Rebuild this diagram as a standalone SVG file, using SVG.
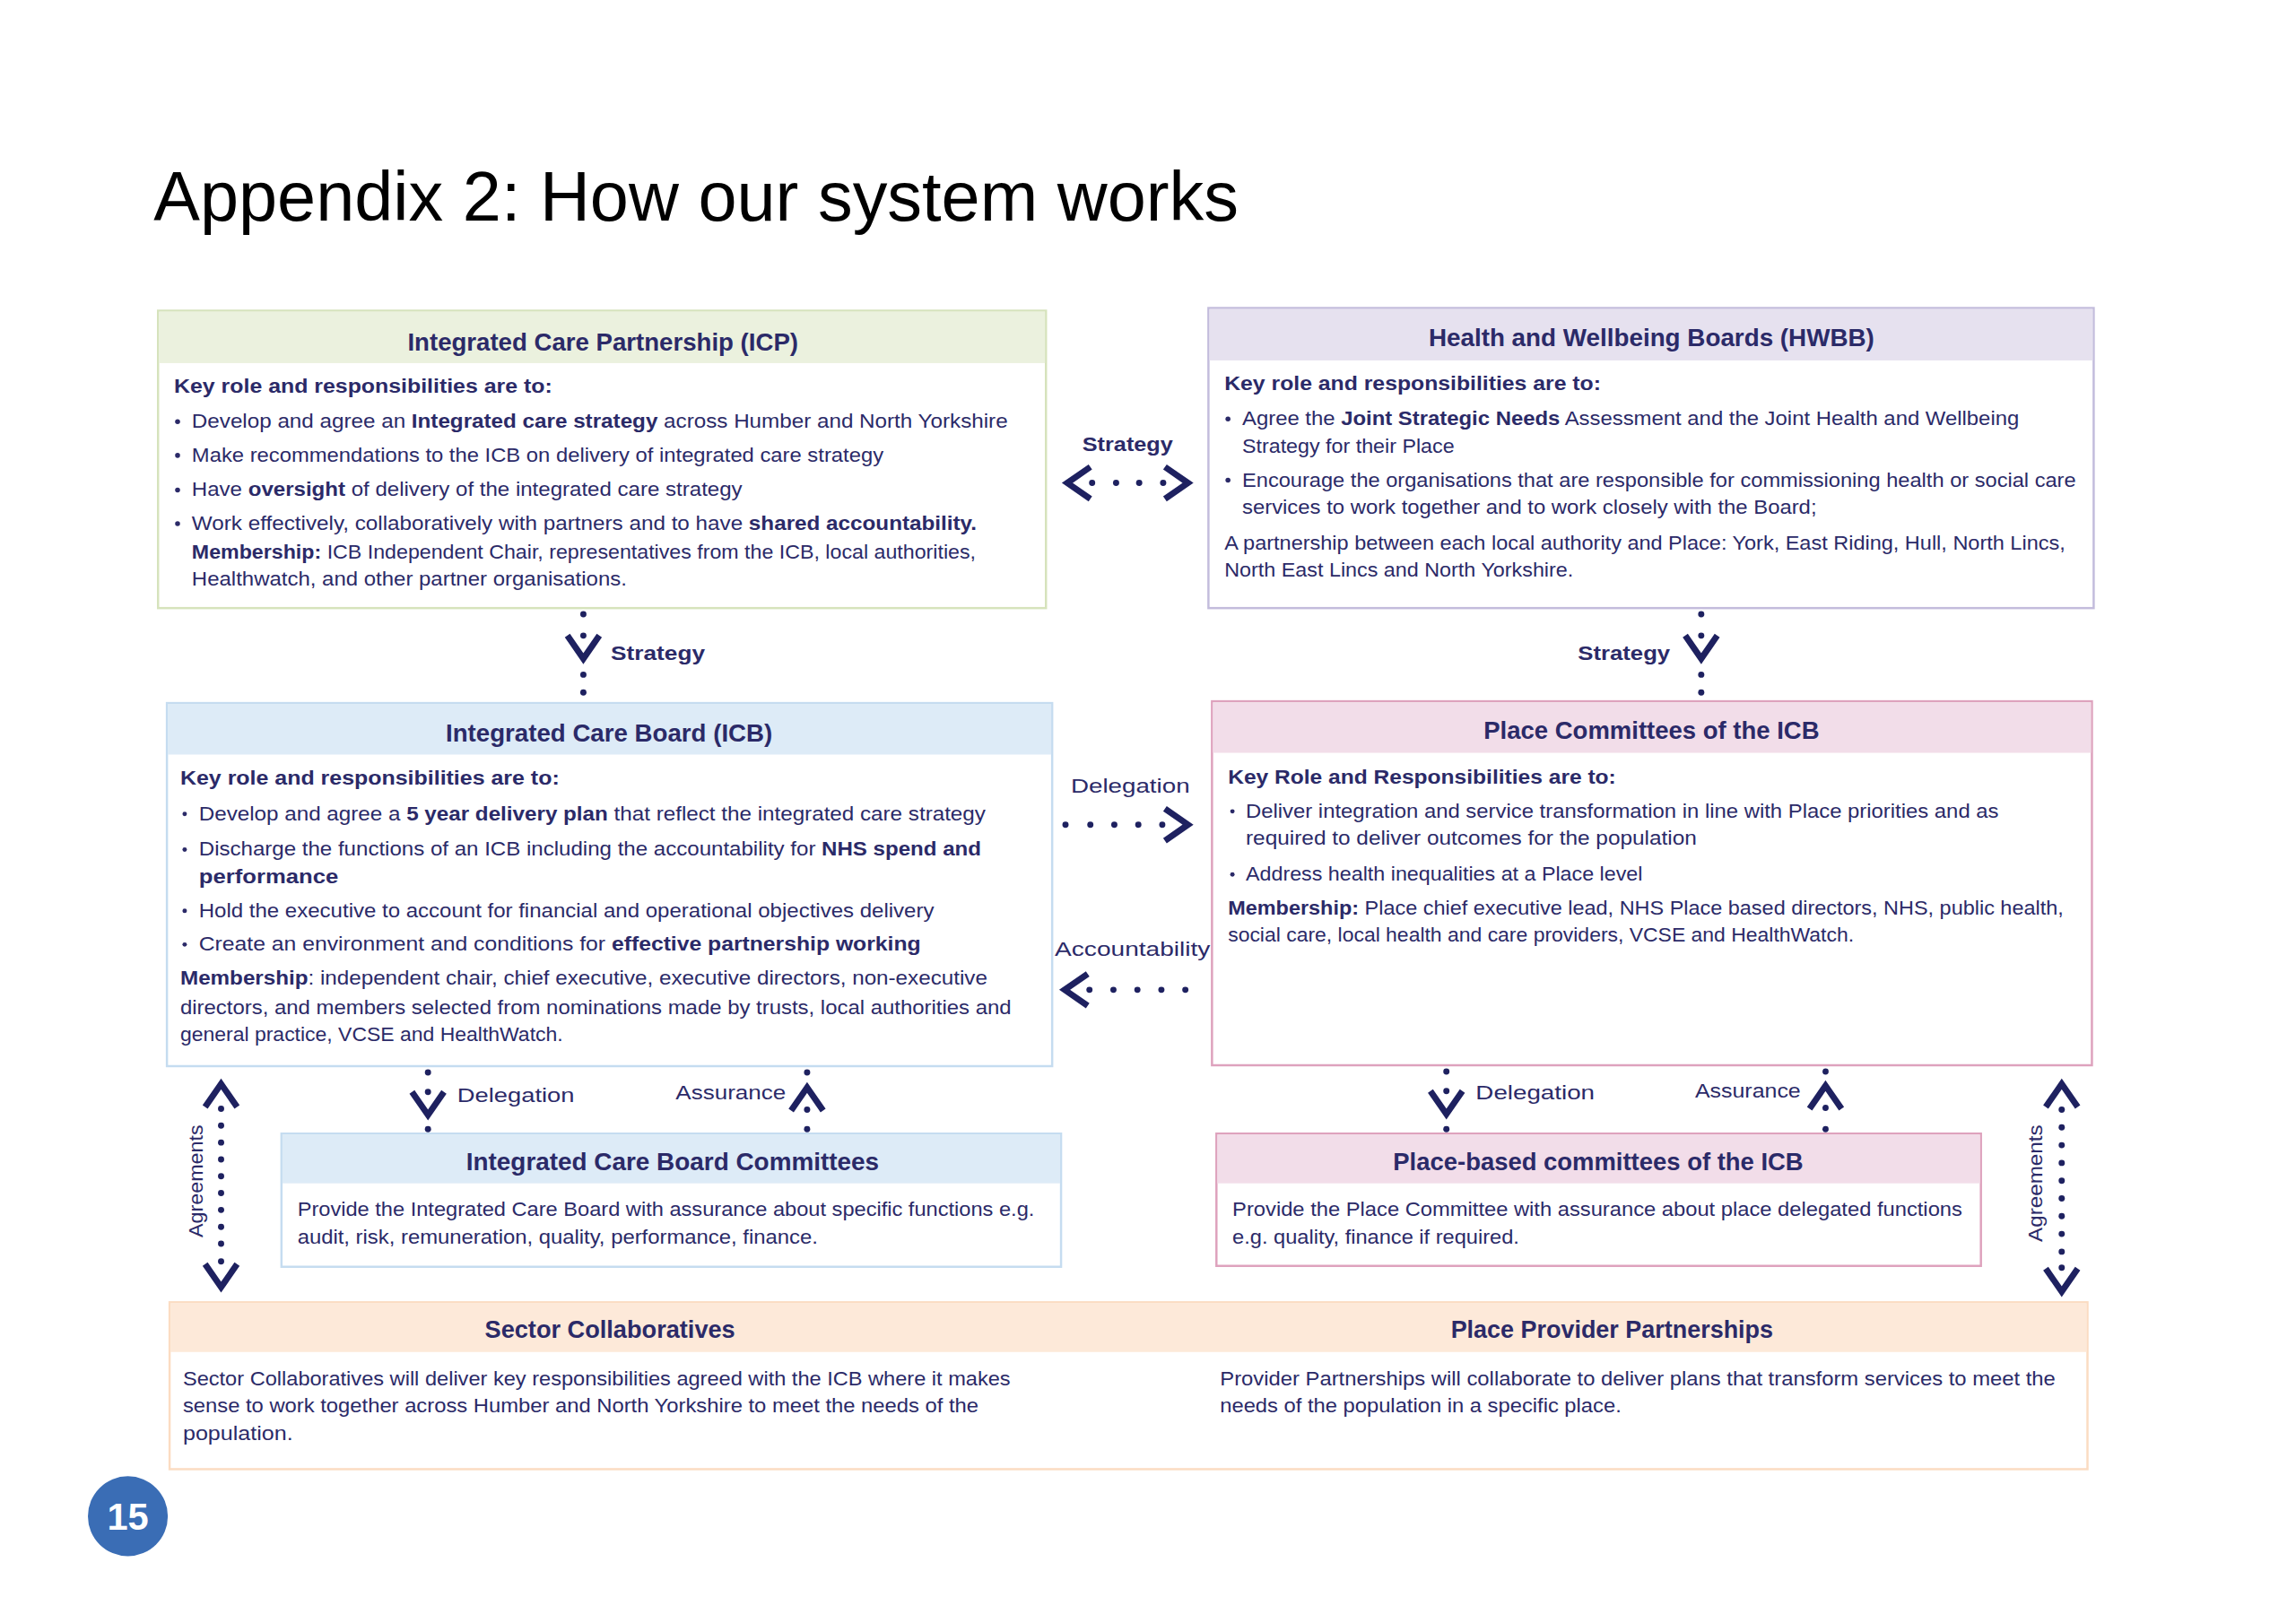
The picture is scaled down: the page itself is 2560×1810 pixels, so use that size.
<svg xmlns="http://www.w3.org/2000/svg" xmlns:xlink="http://www.w3.org/1999/xlink" width="2560" height="1810" viewBox="0 0 2560 1810">
<style>
text{font-family:"Liberation Sans",Arial,sans-serif;fill:#2b2a68;}
.t{font-size:23px;}
.h{font-size:27px;font-weight:bold;}
.k{font-size:23px;font-weight:bold;}
.b{font-weight:bold;}
.lbl{font-size:23px;}
.lblb{font-size:23px;font-weight:bold;}
.dot{fill:#1e2160;}
.bul{fill:#2b2a68;}
</style>
<defs>
<path id="chev" d="M-13,-18 L13,0 L-13,18" fill="none" stroke="#1e2160" stroke-width="7" stroke-linejoin="miter"/>
</defs>
<rect width="2560" height="1810" fill="#ffffff"/>
<g transform="scale(0.99)">
<text x="173" y="248" style="font-size:78px;fill:#000" textLength="1222" lengthAdjust="spacingAndGlyphs">Appendix 2: How our system works</text>

<g id="icp">
<rect x="178" y="350" width="1000" height="335" fill="#fff" stroke="#d6e3bc" stroke-width="2.5"/>
<rect x="179" y="351" width="998" height="58" fill="#ebf1de"/>
<text class="h" x="459" y="395" textLength="440" lengthAdjust="spacingAndGlyphs">Integrated Care Partnership (ICP)</text>
<g transform="translate(0,5)">
<text class="k" x="196" y="437" textLength="426" lengthAdjust="spacingAndGlyphs">Key role and responsibilities are to:</text>
<circle class="bul" cx="200" cy="470" r="2.8"/><text class="t" x="216" y="477" textLength="919" lengthAdjust="spacingAndGlyphs">Develop and agree an <tspan class="b">Integrated care strategy</tspan> across Humber and North Yorkshire</text>
<circle class="bul" cx="200" cy="508" r="2.8"/><text class="t" x="216" y="515" textLength="779" lengthAdjust="spacingAndGlyphs">Make recommendations to the ICB on delivery of integrated care strategy</text>
<circle class="bul" cx="200" cy="547" r="2.8"/><text class="t" x="216" y="554" textLength="620" lengthAdjust="spacingAndGlyphs">Have <tspan class="b">oversight</tspan> of delivery of the integrated care strategy</text>
<circle class="bul" cx="200" cy="585" r="2.8"/><text class="t" x="216" y="592" textLength="884" lengthAdjust="spacingAndGlyphs">Work effectively, collaboratively with partners and to have <tspan class="b">shared accountability.</tspan></text>
<text class="t" x="216" y="624" textLength="883" lengthAdjust="spacingAndGlyphs"><tspan class="b">Membership:</tspan> ICB Independent Chair, representatives from the ICB, local authorities,</text>
<text class="t" x="216" y="655" textLength="490" lengthAdjust="spacingAndGlyphs">Healthwatch, and other partner organisations.</text>
</g>
</g>

<g id="hwbb">
<rect x="1361" y="347" width="997" height="338" fill="#fff" stroke="#c3bcdc" stroke-width="2.5"/>
<rect x="1362" y="348" width="995" height="58" fill="#e6e1ef"/>
<text class="h" x="1609" y="390" textLength="502" lengthAdjust="spacingAndGlyphs">Health and Wellbeing Boards (HWBB)</text>
<g transform="translate(0,5)">
<text class="k" x="1379" y="434" textLength="424" lengthAdjust="spacingAndGlyphs">Key role and responsibilities are to:</text>
<circle class="bul" cx="1383" cy="467" r="2.8"/><text class="t" x="1399" y="474" textLength="875" lengthAdjust="spacingAndGlyphs">Agree the <tspan class="b">Joint Strategic Needs</tspan> Assessment and the Joint Health and Wellbeing</text>
<text class="t" x="1399" y="505" textLength="239" lengthAdjust="spacingAndGlyphs">Strategy for their Place</text>
<circle class="bul" cx="1383" cy="536" r="2.8"/><text class="t" x="1399" y="543" textLength="939" lengthAdjust="spacingAndGlyphs">Encourage the organisations that are responsible for commissioning health or social care</text>
<text class="t" x="1399" y="574" textLength="647" lengthAdjust="spacingAndGlyphs">services to work together and to work closely with the Board;</text>
<text class="t" x="1379" y="614" textLength="947" lengthAdjust="spacingAndGlyphs">A partnership between each local authority and Place: York, East Riding, Hull, North Lincs,</text>
<text class="t" x="1379" y="645" textLength="393" lengthAdjust="spacingAndGlyphs">North East Lincs and North Yorkshire.</text>
</g>
</g>

<g id="icb">
<rect x="188" y="792" width="997" height="409" fill="#fff" stroke="#c5dcf0" stroke-width="2.5"/>
<rect x="189" y="793" width="995" height="57" fill="#ddebf7"/>
<text class="h" x="502" y="835" textLength="368" lengthAdjust="spacingAndGlyphs">Integrated Care Board (ICB)</text>
<g transform="translate(0,5)">
<text class="k" x="203" y="879" textLength="427" lengthAdjust="spacingAndGlyphs">Key role and responsibilities are to:</text>
<circle class="bul" cx="208" cy="912" r="2.5"/><text class="t" x="224" y="919" textLength="886" lengthAdjust="spacingAndGlyphs">Develop and agree a <tspan class="b">5 year delivery plan</tspan> that reflect the integrated care strategy</text>
<circle class="bul" cx="208" cy="952" r="2.5"/><text class="t" x="224" y="959" textLength="881" lengthAdjust="spacingAndGlyphs">Discharge the functions of an ICB including the accountability for <tspan class="b">NHS spend and</tspan></text>
<text class="t b" x="224" y="990" textLength="157" lengthAdjust="spacingAndGlyphs">performance</text>
<circle class="bul" cx="208" cy="1021" r="2.5"/><text class="t" x="224" y="1028" textLength="828" lengthAdjust="spacingAndGlyphs">Hold the executive to account for financial and operational objectives delivery</text>
<circle class="bul" cx="208" cy="1059" r="2.5"/><text class="t" x="224" y="1066" textLength="813" lengthAdjust="spacingAndGlyphs">Create an environment and conditions for <tspan class="b">effective partnership working</tspan></text>
<text class="t" x="203" y="1104" textLength="909" lengthAdjust="spacingAndGlyphs"><tspan class="b">Membership</tspan>: independent chair, chief executive, executive directors, non-executive</text>
<text class="t" x="203" y="1137" textLength="936" lengthAdjust="spacingAndGlyphs">directors, and members selected from nominations made by trusts, local authorities and</text>
<text class="t" x="203" y="1168" textLength="431" lengthAdjust="spacingAndGlyphs">general practice, VCSE and HealthWatch.</text>
</g>
</g>

<g id="place">
<rect x="1365" y="790" width="991" height="410" fill="#fff" stroke="#dea2bd" stroke-width="2.5"/>
<rect x="1366" y="791" width="989" height="57" fill="#f2dde9"/>
<text class="h" x="1671" y="832" textLength="378" lengthAdjust="spacingAndGlyphs">Place Committees of the ICB</text>
<g transform="translate(0,5)">
<text class="k" x="1383" y="878" textLength="437" lengthAdjust="spacingAndGlyphs">Key Role and Responsibilities are to:</text>
<circle class="bul" cx="1388" cy="909" r="2.5"/><text class="t" x="1403" y="916" textLength="848" lengthAdjust="spacingAndGlyphs">Deliver integration and service transformation in line with Place priorities and as</text>
<text class="t" x="1403" y="947" textLength="508" lengthAdjust="spacingAndGlyphs">required to deliver outcomes for the population</text>
<circle class="bul" cx="1388" cy="980" r="2.5"/><text class="t" x="1403" y="987" textLength="447" lengthAdjust="spacingAndGlyphs">Address health inequalities at a Place level</text>
<text class="t" x="1383" y="1025" textLength="941" lengthAdjust="spacingAndGlyphs"><tspan class="b">Membership:</tspan> Place chief executive lead, NHS Place based directors, NHS, public health,</text>
<text class="t" x="1383" y="1056" textLength="705" lengthAdjust="spacingAndGlyphs">social care, local health and care providers, VCSE and HealthWatch.</text>
</g>
</g>

<g id="icb-committees">
<rect x="317" y="1277" width="878" height="150" fill="#fff" stroke="#c5dcf0" stroke-width="2.5"/>
<rect x="318" y="1278" width="876" height="55" fill="#ddebf7"/>
<text class="h" x="525" y="1318" textLength="465" lengthAdjust="spacingAndGlyphs">Integrated Care Board Committees</text>
<text class="t" x="335" y="1370" textLength="830" lengthAdjust="spacingAndGlyphs">Provide the Integrated Care Board with assurance about specific functions e.g.</text>
<text class="t" x="335" y="1401" textLength="586" lengthAdjust="spacingAndGlyphs">audit, risk, remuneration, quality, performance, finance.</text>
</g>

<g id="place-committees">
<rect x="1370" y="1277" width="861" height="149" fill="#fff" stroke="#dea2bd" stroke-width="2.5"/>
<rect x="1371" y="1278" width="859" height="55" fill="#f2dde9"/>
<text class="h" x="1569" y="1318" textLength="462" lengthAdjust="spacingAndGlyphs">Place-based committees of the ICB</text>
<text class="t" x="1388" y="1370" textLength="822" lengthAdjust="spacingAndGlyphs">Provide the Place Committee with assurance about place delegated functions</text>
<text class="t" x="1388" y="1401" textLength="323" lengthAdjust="spacingAndGlyphs">e.g. quality, finance if required.</text>
</g>

<g id="collaboratives">
<rect x="191" y="1467" width="2160" height="188" fill="#fff" stroke="#fbdcc2" stroke-width="2.5"/>
<rect x="192" y="1468" width="2158" height="55" fill="#fde9d9"/>
<text class="h" x="546" y="1507" textLength="282" lengthAdjust="spacingAndGlyphs">Sector Collaboratives</text>
<text class="t" x="206" y="1561" textLength="932" lengthAdjust="spacingAndGlyphs">Sector Collaboratives will deliver key responsibilities agreed with the ICB where it makes</text>
<text class="t" x="206" y="1591" textLength="896" lengthAdjust="spacingAndGlyphs">sense to work together across Humber and North Yorkshire to meet the needs of the</text>
<text class="t" x="206" y="1622" textLength="124" lengthAdjust="spacingAndGlyphs">population.</text>
</g>
<g id="provider-partnerships">
<text class="h" x="1634" y="1507" textLength="363" lengthAdjust="spacingAndGlyphs">Place Provider Partnerships</text>
<text class="t" x="1374" y="1561" textLength="941" lengthAdjust="spacingAndGlyphs">Provider Partnerships will collaborate to deliver plans that transform services to meet the</text>
<text class="t" x="1374" y="1591" textLength="452" lengthAdjust="spacingAndGlyphs">needs of the population in a specific place.</text>
</g>

<g id="connectors">
<text class="lblb" x="1219" y="508" textLength="102" lengthAdjust="spacingAndGlyphs">Strategy</text>
<use href="#chev" transform="translate(1215,544) rotate(180)"/>
<use href="#chev" transform="translate(1325,544)"/>
<circle class="dot" cx="1230" cy="544" r="3.5"/><circle class="dot" cx="1257" cy="544" r="3.5"/><circle class="dot" cx="1283" cy="544" r="3.5"/><circle class="dot" cx="1310" cy="544" r="3.5"/>
<text class="lbl" x="1206" y="893" textLength="134" lengthAdjust="spacingAndGlyphs">Delegation</text>
<circle class="dot" cx="1200" cy="929" r="3.5"/><circle class="dot" cx="1228" cy="929" r="3.5"/><circle class="dot" cx="1255" cy="929" r="3.5"/><circle class="dot" cx="1282" cy="929" r="3.5"/><circle class="dot" cx="1309" cy="929" r="3.5"/>
<use href="#chev" transform="translate(1325,929)"/>
<text class="lbl" x="1188" y="1077" textLength="175" lengthAdjust="spacingAndGlyphs">Accountability</text>
<use href="#chev" transform="translate(1212,1115) rotate(180)"/>
<circle class="dot" cx="1227" cy="1115" r="3.5"/><circle class="dot" cx="1254" cy="1115" r="3.5"/><circle class="dot" cx="1281" cy="1115" r="3.5"/><circle class="dot" cx="1308" cy="1115" r="3.5"/><circle class="dot" cx="1335" cy="1115" r="3.5"/>
<circle class="dot" cx="657" cy="692" r="3.5"/><circle class="dot" cx="657" cy="716" r="3.5"/>
<use href="#chev" transform="translate(657,729) rotate(90)"/>
<circle class="dot" cx="657" cy="760" r="3.5"/><circle class="dot" cx="657" cy="780" r="3.5"/>
<text class="lblb" x="688" y="743" textLength="106" lengthAdjust="spacingAndGlyphs">Strategy</text>
<circle class="dot" cx="1916" cy="692" r="3.5"/><circle class="dot" cx="1916" cy="716" r="3.5"/>
<use href="#chev" transform="translate(1916,729) rotate(90)"/>
<circle class="dot" cx="1916" cy="760" r="3.5"/><circle class="dot" cx="1916" cy="780" r="3.5"/>
<text class="lblb" x="1777" y="743" textLength="104" lengthAdjust="spacingAndGlyphs">Strategy</text>
<circle class="dot" cx="482" cy="1208" r="3.5"/><circle class="dot" cx="482" cy="1230" r="3.5"/>
<use href="#chev" transform="translate(482,1243) rotate(90)"/>
<circle class="dot" cx="482" cy="1272" r="3.5"/>
<text class="lbl" x="515" y="1241" textLength="132" lengthAdjust="spacingAndGlyphs">Delegation</text>
<circle class="dot" cx="909" cy="1208" r="3.5"/>
<use href="#chev" transform="translate(909,1238) rotate(-90)"/>
<circle class="dot" cx="909" cy="1250" r="3.5"/><circle class="dot" cx="909" cy="1272" r="3.5"/>
<text class="lbl" x="761" y="1238" textLength="124" lengthAdjust="spacingAndGlyphs">Assurance</text>
<circle class="dot" cx="1629" cy="1207" r="3.5"/><circle class="dot" cx="1629" cy="1229" r="3.5"/>
<use href="#chev" transform="translate(1629,1242) rotate(90)"/>
<circle class="dot" cx="1629" cy="1272" r="3.5"/>
<text class="lbl" x="1662" y="1238" textLength="134" lengthAdjust="spacingAndGlyphs">Delegation</text>
<circle class="dot" cx="2056" cy="1207" r="3.5"/>
<use href="#chev" transform="translate(2056,1236) rotate(-90)"/>
<circle class="dot" cx="2056" cy="1248" r="3.5"/><circle class="dot" cx="2056" cy="1272" r="3.5"/>
<text class="lbl" x="1909" y="1236" textLength="119" lengthAdjust="spacingAndGlyphs">Assurance</text>
<use href="#chev" transform="translate(249,1234) rotate(-90)"/>
<circle class="dot" cx="249" cy="1249" r="3.5"/><circle class="dot" cx="249" cy="1268" r="3.5"/><circle class="dot" cx="249" cy="1287" r="3.5"/><circle class="dot" cx="249" cy="1306" r="3.5"/><circle class="dot" cx="249" cy="1325" r="3.5"/><circle class="dot" cx="249" cy="1344" r="3.5"/><circle class="dot" cx="249" cy="1363" r="3.5"/><circle class="dot" cx="249" cy="1382" r="3.5"/><circle class="dot" cx="249" cy="1401" r="3.5"/><circle class="dot" cx="249" cy="1421" r="3.5"/>
<use href="#chev" transform="translate(249,1437) rotate(90)"/>
<text class="lbl" transform="translate(228,1330) rotate(-90)" x="-64" y="0" textLength="127" lengthAdjust="spacingAndGlyphs">Agreements</text>
<use href="#chev" transform="translate(2322,1234) rotate(-90)"/>
<circle class="dot" cx="2322" cy="1250" r="3.5"/><circle class="dot" cx="2322" cy="1270" r="3.5"/><circle class="dot" cx="2322" cy="1290" r="3.5"/><circle class="dot" cx="2322" cy="1310" r="3.5"/><circle class="dot" cx="2322" cy="1330" r="3.5"/><circle class="dot" cx="2322" cy="1350" r="3.5"/><circle class="dot" cx="2322" cy="1370" r="3.5"/><circle class="dot" cx="2322" cy="1390" r="3.5"/><circle class="dot" cx="2322" cy="1410" r="3.5"/><circle class="dot" cx="2322" cy="1428" r="3.5"/>
<use href="#chev" transform="translate(2322,1442) rotate(90)"/>
<text class="lbl" transform="translate(2300,1333) rotate(-90)" x="-66" y="0" textLength="132" lengthAdjust="spacingAndGlyphs">Agreements</text>
</g>

<g id="page-number">
<circle cx="144" cy="1708" r="45" fill="#3a6db5"/>
<text x="144" y="1723" text-anchor="middle" style="font-size:42px;font-weight:bold;fill:#fff">15</text>
</g>
</g>
</svg>
